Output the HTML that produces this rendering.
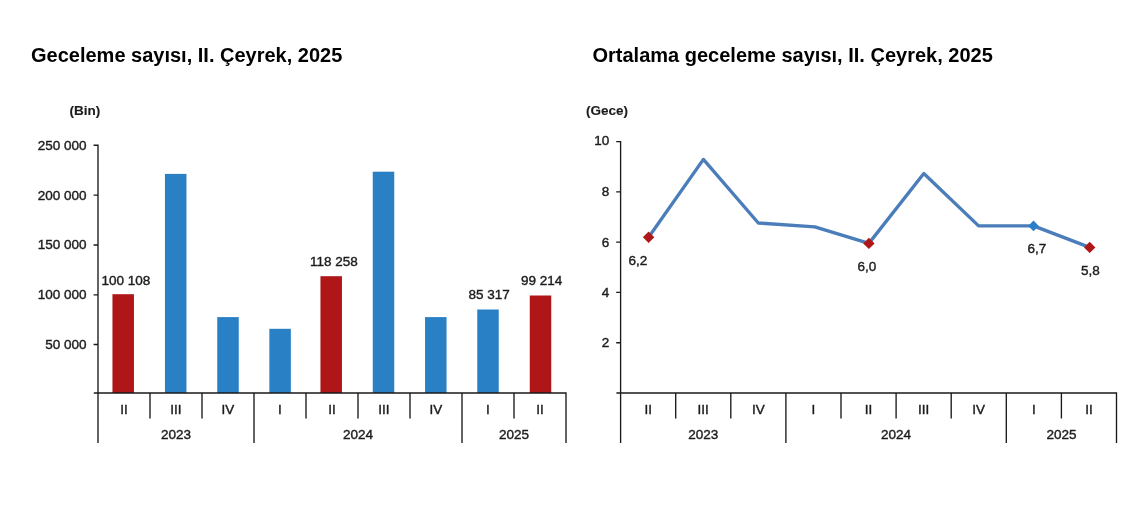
<!DOCTYPE html>
<html lang="tr"><head><meta charset="utf-8"><title>Geceleme sayısı</title>
<style>html,body{margin:0;padding:0;background:#fff}svg{display:block}text{font-family:"Liberation Sans",sans-serif;fill:#1c1c1c;stroke:#1c1c1c;stroke-width:.4px}.t{font-size:20px;font-weight:bold;fill:#000;stroke:none}.b{font-size:13.5px;font-weight:bold;stroke-width:.12px}.n{font-size:13.5px}.ax{stroke:#1a1a1a;stroke-width:1.35;fill:none}</style></head><body>
<svg width="1134" height="508" viewBox="0 0 1134 508">
<rect width="1134" height="508" fill="#fff"/>
<text class="t" x="31" y="61.6">Geceleme sayısı, II. Çeyrek, 2025</text>
<text class="t" x="592.5" y="61.6">Ortalama geceleme sayısı, II. Çeyrek, 2025</text>
<text class="b" x="100.3" y="114.6" text-anchor="end">(Bin)</text>
<text class="b" x="628" y="114.6" text-anchor="end">(Gece)</text>
<rect x="112.45" y="294.20" width="21.5" height="98.80" fill="#af1617"/>
<text class="n" x="125.80" y="284.80" text-anchor="middle">100 108</text>
<rect x="164.95" y="173.90" width="21.5" height="219.10" fill="#2980c4"/>
<rect x="217.25" y="317.10" width="21.5" height="75.90" fill="#2980c4"/>
<rect x="269.35" y="328.80" width="21.5" height="64.20" fill="#2980c4"/>
<rect x="320.45" y="276.20" width="21.5" height="116.80" fill="#af1617"/>
<text class="n" x="333.90" y="265.50" text-anchor="middle">118 258</text>
<rect x="372.75" y="171.70" width="21.5" height="221.30" fill="#2980c4"/>
<rect x="425.05" y="317.10" width="21.5" height="75.90" fill="#2980c4"/>
<rect x="477.25" y="309.50" width="21.5" height="83.50" fill="#2980c4"/>
<text class="n" x="489.10" y="298.80" text-anchor="middle">85 317</text>
<rect x="529.75" y="295.50" width="21.5" height="97.50" fill="#af1617"/>
<text class="n" x="541.60" y="284.90" text-anchor="middle">99 214</text>
<text class="n" x="86.5" y="348.60" text-anchor="end">50 000</text>
<text class="n" x="86.5" y="298.60" text-anchor="end">100 000</text>
<text class="n" x="86.5" y="249.20" text-anchor="end">150 000</text>
<text class="n" x="86.5" y="199.60" text-anchor="end">200 000</text>
<text class="n" x="86.5" y="149.70" text-anchor="end">250 000</text>
<path class="ax" d="M98.0 144.52499999999998V443.0M93.8 393.0H566.675M93.6 344.50H98.0M93.6 294.80H98.0M93.6 245.00H98.0M93.6 195.10H98.0M93.6 145.20H98.0M150.00 393.0V418.4M202.00 393.0V418.4M254.00 393.0V443.0M306.00 393.0V418.4M358.00 393.0V418.4M410.00 393.0V418.4M462.00 393.0V443.0M514.00 393.0V418.4M566.00 393.0V443.0"/>
<text class="n" x="124.00" y="413.80" text-anchor="middle">II</text>
<text class="n" x="176.00" y="413.80" text-anchor="middle">III</text>
<text class="n" x="228.00" y="413.80" text-anchor="middle">IV</text>
<text class="n" x="280.00" y="413.80" text-anchor="middle">I</text>
<text class="n" x="332.00" y="413.80" text-anchor="middle">II</text>
<text class="n" x="384.00" y="413.80" text-anchor="middle">III</text>
<text class="n" x="436.00" y="413.80" text-anchor="middle">IV</text>
<text class="n" x="488.00" y="413.80" text-anchor="middle">I</text>
<text class="n" x="540.00" y="413.80" text-anchor="middle">II</text>
<text class="n" x="176.00" y="439.20" text-anchor="middle">2023</text>
<text class="n" x="358.00" y="439.20" text-anchor="middle">2024</text>
<text class="n" x="514.00" y="439.20" text-anchor="middle">2025</text>
<polyline fill="none" stroke="#4a7db9" stroke-width="3.35" stroke-linejoin="round" stroke-linecap="round" points="648.60,237.20 703.40,159.40 758.30,223.00 814.80,226.80 868.90,243.40 923.80,173.50 978.60,225.90 1033.50,225.90 1089.70,247.40"/>
<path d="M642.90 237.20L648.60 231.50L654.30 237.20L648.60 242.90Z" fill="#af1617"/>
<text class="n" x="637.80" y="265.40" text-anchor="middle">6,2</text>
<path d="M863.20 243.40L868.90 237.70L874.60 243.40L868.90 249.10Z" fill="#af1617"/>
<text class="n" x="866.80" y="270.80" text-anchor="middle">6,0</text>
<path d="M1028.20 225.90L1033.50 220.60L1038.80 225.90L1033.50 231.20Z" fill="#2a80c8"/>
<text class="n" x="1036.80" y="252.50" text-anchor="middle">6,7</text>
<path d="M1084.00 247.40L1089.70 241.70L1095.40 247.40L1089.70 253.10Z" fill="#af1617"/>
<text class="n" x="1090.40" y="274.70" text-anchor="middle">5,8</text>
<text class="n" x="609.2" y="347.40" text-anchor="end">2</text>
<text class="n" x="609.2" y="297.20" text-anchor="end">4</text>
<text class="n" x="609.2" y="246.50" text-anchor="end">6</text>
<text class="n" x="609.2" y="196.00" text-anchor="end">8</text>
<text class="n" x="609.2" y="145.40" text-anchor="end">10</text>
<path class="ax" d="M620.6 140.92499999999998V443.0M616.4 393.0H1117.175M616.2 342.72H620.6M616.2 292.44H620.6M616.2 242.16H620.6M616.2 191.88H620.6M616.2 141.60H620.6M675.70 393.0V418.4M730.80 393.0V418.4M785.90 393.0V443.0M841.00 393.0V418.4M896.10 393.0V418.4M951.20 393.0V418.4M1006.30 393.0V443.0M1061.40 393.0V418.4M1116.50 393.0V443.0"/>
<text class="n" x="648.15" y="413.80" text-anchor="middle">II</text>
<text class="n" x="703.25" y="413.80" text-anchor="middle">III</text>
<text class="n" x="758.35" y="413.80" text-anchor="middle">IV</text>
<text class="n" x="813.45" y="413.80" text-anchor="middle">I</text>
<text class="n" x="868.55" y="413.80" text-anchor="middle">II</text>
<text class="n" x="923.65" y="413.80" text-anchor="middle">III</text>
<text class="n" x="978.75" y="413.80" text-anchor="middle">IV</text>
<text class="n" x="1033.85" y="413.80" text-anchor="middle">I</text>
<text class="n" x="1088.95" y="413.80" text-anchor="middle">II</text>
<text class="n" x="703.25" y="439.20" text-anchor="middle">2023</text>
<text class="n" x="896.10" y="439.20" text-anchor="middle">2024</text>
<text class="n" x="1061.40" y="439.20" text-anchor="middle">2025</text>
</svg></body></html>
